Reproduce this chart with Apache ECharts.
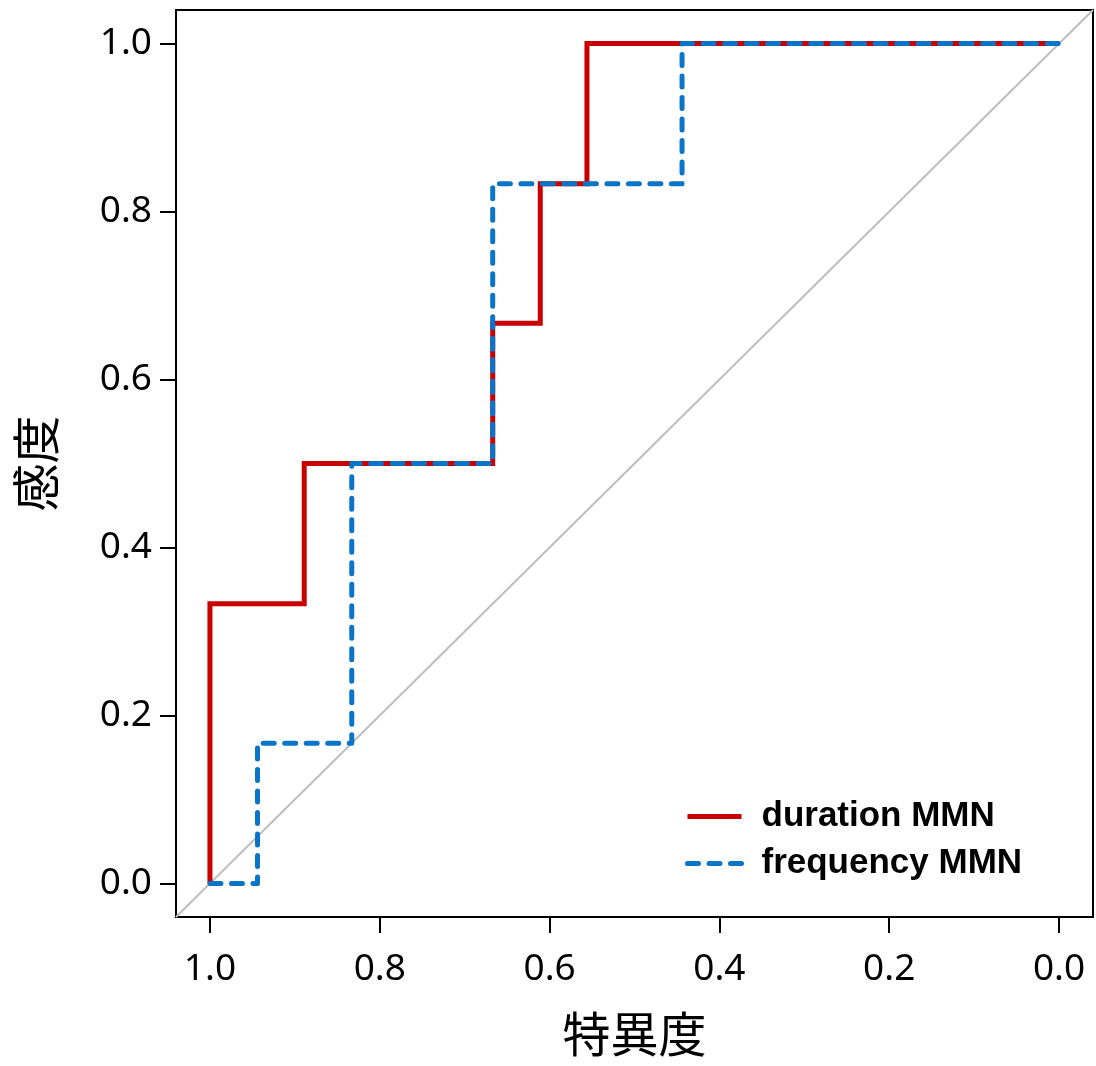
<!DOCTYPE html>
<html>
<head>
<meta charset="utf-8">
<script src="https://cdn.jsdelivr.net/npm/echarts@6/dist/echarts.min.js"></script>
<style>
html,body{margin:0;padding:0;background:#fff;}
#chart{width:1096px;height:1066px;}
</style>
</head>
<body>
<div id="chart"></div>
<script>
// ROC points (specificity, sensitivity)
const durationSpec = [1.0, 1.0, 0.889, 0.667, 0.611, 0.556, 0.0];
const durationSens = [0.0, 0.333, 0.5, 0.667, 0.833, 1.0, 1.0];
const frequencySpec = [1.0, 0.944, 0.833, 0.667, 0.444, 0.0];
const frequencySens = [0.0, 0.167, 0.5, 0.833, 1.0, 1.0];
const tickValues = [0, 0.2, 0.4, 0.6, 0.8, 1.0];
const seriesNames = ['duration MMN', 'frequency MMN'];
const xTitle = '特異度';
const yTitle = '感度';

function stepPoints(xs, ys) {
  const pts = [[xs[0], ys[0]]];
  for (let i = 1; i < xs.length; i++) {
    pts.push([xs[i], ys[i - 1]]);
    pts.push([xs[i], ys[i]]);
  }
  return pts;
}

const chart = echarts.init(document.getElementById('chart'), null, {renderer: 'canvas'});
const labelFont = '"Noto Sans", "DejaVu Sans", sans-serif';
const cjkFont = '"Noto Sans CJK JP", "Noto Sans CJK SC", sans-serif';

chart.setOption({
  animation: false,
  backgroundColor: '#ffffff',
  grid: {
    left: 176, top: 10, right: 3, bottom: 149,
    show: true, borderColor: '#000', borderWidth: 2, backgroundColor: 'transparent'
  },
  legend: {
    data: seriesNames,
    orient: 'vertical',
    left: 685, top: 799, padding: 0,
    itemWidth: 54, itemHeight: 14, itemGap: 12,
    itemStyle: {opacity: 0, borderWidth: 0},
    lineStyle: {width: 5},
    textStyle: {
      fontFamily: '"Liberation Sans", Arial, sans-serif',
      fontWeight: 'bold', fontSize: 35, color: '#000',
      padding: [0, 0, 0, 15]
    }
  },
  xAxis: {
    type: 'value', inverse: true, min: -0.04, max: 1.04,
    name: xTitle, nameLocation: 'middle', nameGap: 93,
    nameTextStyle: {fontFamily: cjkFont, fontSize: 48, color: '#000'},
    axisLine: {show: false, onZero: false},
    splitLine: {show: false},
    axisTick: {show: true, customValues: tickValues, length: 16, inside: false,
      lineStyle: {color: '#000', width: 2}},
    axisLabel: {show: true, customValues: tickValues, margin: 34,
      fontFamily: labelFont, fontSize: 37, color: '#000',
      formatter: v => v.toFixed(1)}
  },
  yAxis: {
    type: 'value', min: -0.04, max: 1.04,
    name: yTitle, nameLocation: 'middle', nameGap: 116, nameRotate: 90,
    nameTextStyle: {fontFamily: cjkFont, fontSize: 48, color: '#000'},
    axisLine: {show: false, onZero: false},
    splitLine: {show: false},
    axisTick: {show: true, customValues: tickValues, length: 16, inside: false,
      lineStyle: {color: '#000', width: 2}},
    axisLabel: {show: true, customValues: tickValues, margin: 24,
      fontFamily: labelFont, fontSize: 37, color: '#000',
      formatter: v => v.toFixed(1)}
  },
  series: [
    {
      name: 'diag', type: 'line', silent: true, symbol: 'none',
      data: [[1.04, -0.04], [-0.04, 1.04]],
      lineStyle: {color: '#BEBEBE', width: 2}, z: 1
    },
    {
      name: seriesNames[0], type: 'line', symbol: 'none',
      data: stepPoints(durationSpec, durationSens),
      itemStyle: {color: '#C80000'},
      lineStyle: {color: '#C80000', width: 5, join: 'miter'}, z: 2
    },
    {
      name: seriesNames[1], type: 'line', symbol: 'none',
      data: stepPoints(frequencySpec, frequencySens),
      itemStyle: {color: '#0A74C8'},
      lineStyle: {color: '#0A74C8', width: 5, type: [11, 10.5], cap: 'round', join: 'round'}, z: 3
    }
  ]
});
</script>
</body>
</html>
